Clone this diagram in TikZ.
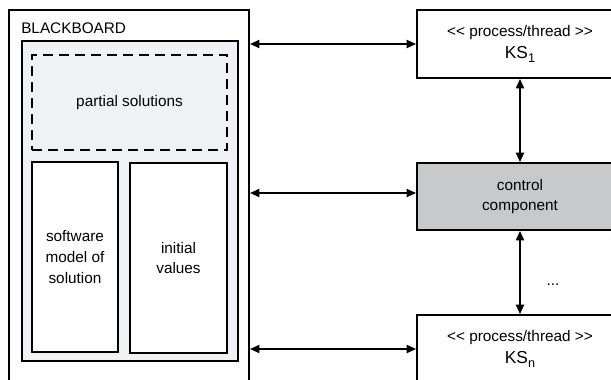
\documentclass[tikz,border=0pt]{standalone}
\usepackage{fontspec}
\setmainfont{Liberation Sans}
\usetikzlibrary{arrows.meta}
\definecolor{lightfill}{HTML}{F0F1F2}
\definecolor{ctrlfill}{HTML}{C8C9CB}
\newcommand{\mysub}[1]{\raisebox{-0.28em}{\fontsize{9.5}{9.5}\selectfont #1}}
\tikzset{
  px/.style={x=0.75pt,y=-0.75pt},
  bbox/.style={draw,line width=1.5pt,fill=white,inner sep=0pt},
  innerbox/.style={draw,line width=0.9pt,fill=lightfill,inner sep=0pt},
  partbox/.style={draw,line width=0.9pt,fill=lightfill,dash pattern=on 7.5pt off 4.5pt,inner sep=0pt,align=center},
  subbox/.style={draw,line width=0.9pt,fill=white,inner sep=0pt,align=center},
  ksbox/.style={draw,line width=1.4pt,fill=white,inner sep=0pt,align=center,minimum width=206*0.75pt,minimum height=68*0.75pt},
  ctrlbox/.style={draw,line width=1.4pt,fill=ctrlfill,inner sep=0pt,align=center,minimum width=206*0.75pt,minimum height=67*0.75pt},
  conn/.style={line width=1.3pt,{Triangle[length=7pt,width=6pt]}-{Triangle[length=7pt,width=6pt]}},
  lbl/.style={inner sep=0pt}
}
\begin{document}
\begin{tikzpicture}[px,font=\fontsize{11.5}{15.5}\selectfont]
\useasboundingbox (0,0) rectangle (611,379);
\clip (0,0) rectangle (611,379);
% blackboard
\node[bbox,minimum width=240*0.75pt,minimum height=375*0.75pt] (bb) at (129,197.5) {};
\node[lbl,anchor=base west] (bbl) at (21,33) {BLACKBOARD};
\node[innerbox,minimum width=216*0.75pt,minimum height=320*0.75pt] (inner) at (130,201) {};
\node[partbox,minimum width=195*0.75pt,minimum height=95*0.75pt] (part) at (129.5,102.5) {partial solutions};
\node[subbox,minimum width=86*0.75pt,minimum height=190*0.75pt] (soft) at (75,257) {software\\model of\\solution};
\node[subbox,minimum width=97*0.75pt,minimum height=190*0.75pt] (init) at (178.5,258) {initial\\values};
% right side
\node[ksbox] (ks1) at (520,44) {<{}< process/thread >{}>\\[1pt]{\fontsize{13}{15}\selectfont KS\mysub{1}}};
\node[ctrlbox] (ctrl) at (520,196.5) {control\\component};
\node[ksbox] (ksn) at (520,349) {<{}< process/thread >{}>\\[1pt]{\fontsize{13}{15}\selectfont KS\mysub{n}}};
\node[lbl] (dots) at (553,285) {...};
% connectors
\draw[conn] (bb.east |- ks1.west) -- (ks1.west);
\draw[conn] (bb.east |- 0,193) -- (ctrl.west |- 0,193);
\draw[conn] (bb.east |- ksn.west) -- (ksn.west);
\draw[conn] (ks1.south) -- (ctrl.north);
\draw[conn] (ctrl.south) -- (ksn.north);
\end{tikzpicture}
\end{document}
